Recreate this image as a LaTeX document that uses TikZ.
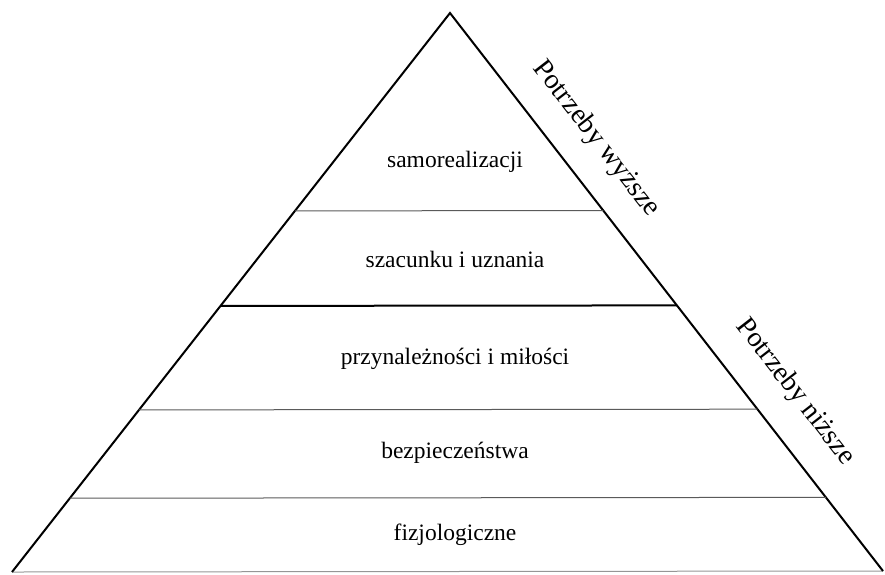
\documentclass[tikz,border=0pt]{standalone}
\usepackage{fontspec}
\setmainfont{Liberation Serif}
\usetikzlibrary{calc}
\definecolor{layergray}{RGB}{90,90,90}
\definecolor{basegray}{RGB}{150,150,150}

\begin{document}
\begin{tikzpicture}[x=1pt,y=-1pt,
    level/.style={font=\fontsize{23.5}{27}\selectfont,inner sep=0pt,anchor=base},
    side/.style={font=\fontsize{28}{32}\selectfont,inner sep=0pt,rotate=-52.2}]
    \useasboundingbox (0,0) rectangle (885,574);
    \coordinate (apex) at (450,13);
    \coordinate (left) at (12,572);
    \coordinate (right) at (883,571);
    \draw[basegray,line width=1pt] (left)--(right);
    \draw[line width=2pt,line join=miter] (left)--(apex)--(right);
    % layer borders
    \draw[layergray,line width=1pt] ($(apex)!0.354!(left)$) coordinate (l1) -- ($(apex)!0.354!(right)$) coordinate (r1);
    \draw[black,line width=2pt] ($(apex)!0.524!(left)$) coordinate (l2) -- ($(apex)!0.524!(right)$) coordinate (r2);
    \draw[layergray,line width=1pt] ($(apex)!0.710!(left)$) coordinate (l3) -- ($(apex)!0.710!(right)$) coordinate (r3);
    \draw[layergray,line width=1pt] ($(apex)!0.868!(left)$) coordinate (l4) -- ($(apex)!0.868!(right)$) coordinate (r4);
    \node[level] (self) at (455,167) {samorealizacji};
    \node[level] (esteem) at (455,267) {szacunku i uznania};
    \node[level] (love) at (455,364) {przynależności i miłości};
    \node[level] (safety) at (455,458) {bezpieczeństwa};
    \node[level] (physio) at (455,540) {fizjologiczne};
    \node[side] (higher) at (596,139) {Potrzeby wyższe};
    \node[side] (lower) at (795,392) {Potrzeby niższe};
\end{tikzpicture}
\end{document}
